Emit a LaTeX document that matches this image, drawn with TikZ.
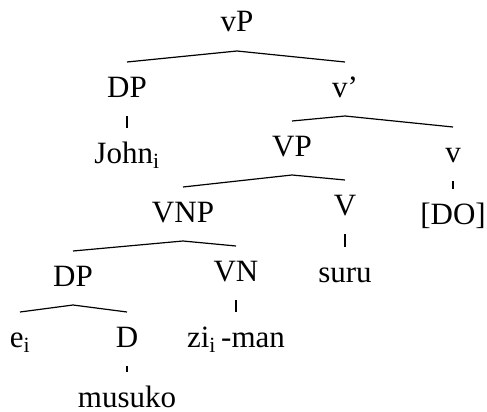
\documentclass[tikz,border=0pt]{standalone}
\usepackage{fontspec}
\setmainfont{Liberation Serif}
\usepackage{tikz}

\begin{document}
\begin{tikzpicture}[x=1pt,y=-1pt,line width=1.2pt,
	every node/.style={anchor=base,font=\fontsize{31}{36}\selectfont,text height=20pt,text depth=4pt,inner ysep=0pt,inner xsep=0pt,outer ysep=15pt}]
	\useasboundingbox (0,0) rectangle (487,412);
	\node (vp) at (237,32) {vP};
	\node (dp) at (127,97) {DP};
	\node (vbar) at (345,97) {v'};
	\node (john) at (127,163) {John\textsubscript{i}};
	\node (bigvp) at (292,156) {VP};
	\node (v) at (453,162) {v};
	\node (vnp) at (183,222) {VNP};
	\node (bigv) at (345,215) {V};
	\node (do) at (453,224) {[DO]};
	\node (dp2) at (73,286) {DP};
	\node (vn) at (236,281) {VN};
	\node (suru) at (345,282) {suru};
	\node (e) at (20,347) {e\textsubscript{i}};
	\node (d) at (127,347) {D};
	\node (ziman) at (236,347) {zi\textsubscript{i}\,-man};
	\node (musuko) at (127,407) {musuko};
	\draw (dp.north) -- (vp.south) -- (vbar.north);
	\draw (dp.south) -- (john.north);
	\draw (bigvp.north) -- (vbar.south) -- (v.north);
	\draw (v.south) -- (do.north);
	\draw (vnp.north) -- (bigvp.south) -- (bigv.north);
	\draw (bigv.south) -- (suru.north);
	\draw (dp2.north) -- (vnp.south) -- (vn.north);
	\draw (vn.south) -- (ziman.north);
	\draw (e.north) -- (dp2.south) -- (d.north);
	\draw (d.south) -- (musuko.north);
\end{tikzpicture}
\end{document}
